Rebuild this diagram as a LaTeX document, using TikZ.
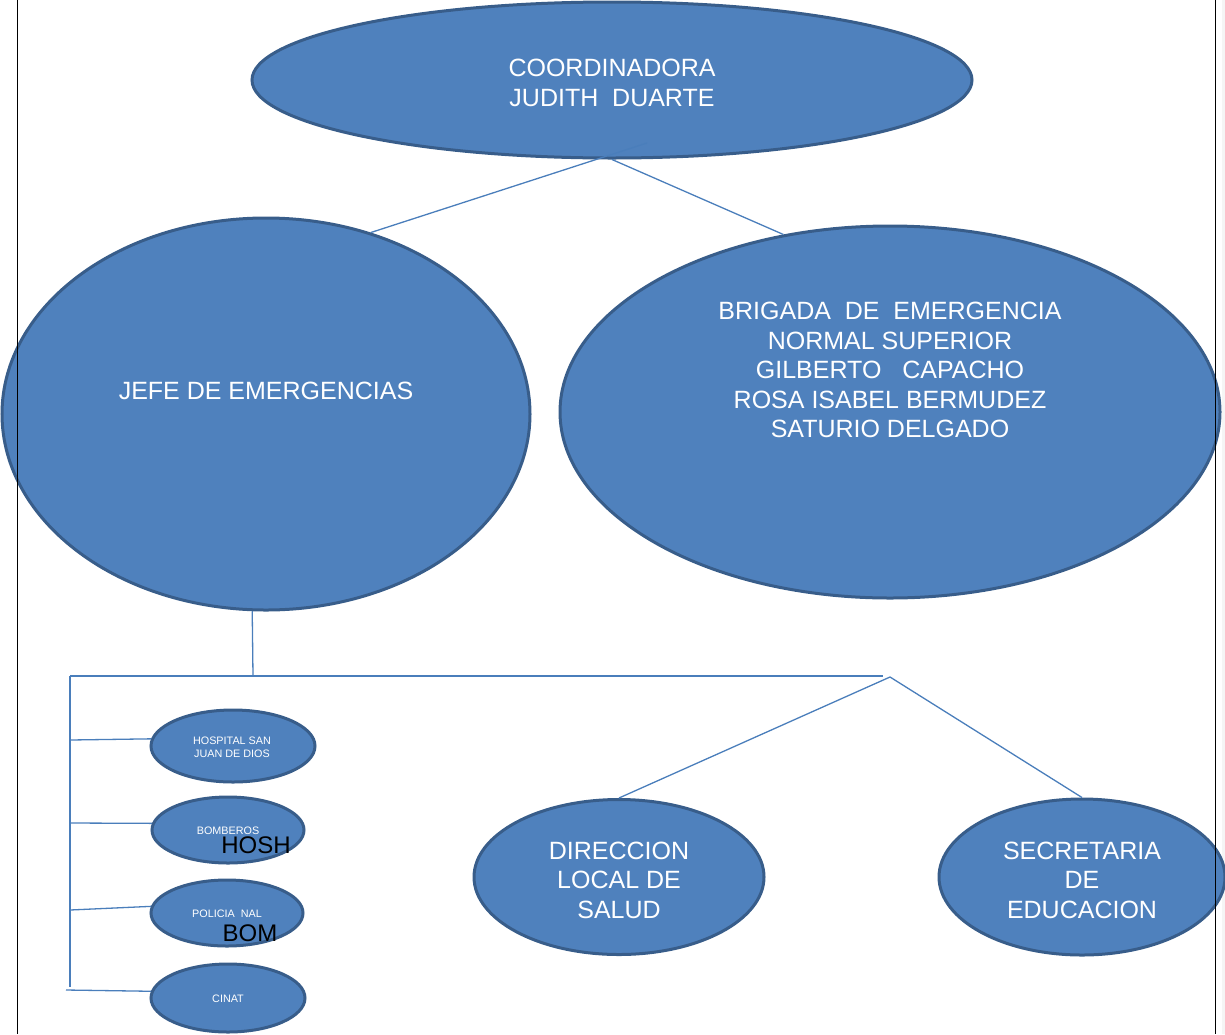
\documentclass[tikz,border=0pt]{standalone}
\usepackage{fontspec}
\setmainfont{Liberation Sans}
\usetikzlibrary{shapes.geometric}
\definecolor{elfill}{HTML}{4F81BD}
\definecolor{elline}{HTML}{385D8A}
\definecolor{conline}{HTML}{4A7EBB}

\begin{document}
\begin{tikzpicture}[x=1pt,y=-1pt,
  burbuja/.style={ellipse,draw=elline,line width=3pt,fill=elfill,inner sep=0pt},
  rama/.style={draw=conline,line width=1.3pt},
  texto/.style={text=white,align=center,font=\fontsize{25}{29.5}\selectfont},
  chico/.style={text=white,align=center,font=\fontsize{10.8}{13}\selectfont},
  negro/.style={text=black,font=\fontsize{24}{29}\selectfont}]
\useasboundingbox (0,0) rectangle (1225,1034);
\fill[gray!8] (1222,0) rectangle (1225,1034);
%ovalos grandes
\node[burbuja,minimum width=720pt,minimum height=156pt] (coord) at (612,80) {};
\node[burbuja,minimum width=528pt,minimum height=392pt] (jefe) at (266,414) {};
\node[burbuja,minimum width=660pt,minimum height=372pt] (brigada) at (890,412) {};
%ovalos chicos
\node[burbuja,minimum width=164pt,minimum height=72pt] (hospital) at (233,746) {};
\node[burbuja,minimum width=152pt,minimum height=66pt] (bomberos) at (228,830) {};
\node[burbuja,minimum width=152pt,minimum height=66pt] (policia) at (227,913) {};
\node[burbuja,minimum width=154pt,minimum height=68pt] (cinat) at (228,998) {};
\node[burbuja,minimum width=290pt,minimum height=155pt] (direccion) at (619,877) {};
\node[burbuja,minimum width=286pt,minimum height=156pt] (secretaria) at (1082,877) {};
%textos
\node[texto] (tcoord) at (612,83) {COORDINADORA\\JUDITH\ \ DUARTE};
\node[texto] (tjefe) at (266,391) {JEFE DE EMERGENCIAS};
\node[texto] (tbrigada) at (890,370) {BRIGADA\ \ DE\ \ EMERGENCIA\\NORMAL SUPERIOR\\GILBERTO\ \ \ CAPACHO\\ROSA ISABEL BERMUDEZ\\SATURIO DELGADO};
\node[chico] (thospital) at (232,747) {HOSPITAL SAN\\JUAN DE DIOS};
\node[chico] (tbomberos) at (228,831) {BOMBEROS};
\node[chico] (tpolicia) at (227,914) {POLICIA\ \ NAL};
\node[chico] (tcinat) at (228,999) {CINAT};
\node[negro] (thosh) at (256,845) {HOSH};
\node[negro] (tbom) at (250,933) {BOM};
\node[texto] (tdireccion) at (619,880) {DIRECCION\\LOCAL DE\\SALUD};
\node[texto] (tsecretaria) at (1082,880) {SECRETARIA\\DE\\EDUCACION};
%conectores
\coordinate (cruce) at (647,143);
\coordinate (bajada) at (253,676);
\coordinate (esquina) at (70,676);
\coordinate (fin) at (883,676);
\coordinate (vertice) at (890,677);
\draw[rama] (jefe.60) -- (cruce);
\draw[rama] (coord.south) -- (brigada.121.7);
\draw[rama] (jefe.266) -- (bajada);
\draw[rama] (esquina) -- (fin);
\draw[rama] (esquina) -- (70,987);
\foreach \n/\x/\y in {hospital/70/740,bomberos/70/823,policia/70/910,cinat/66/990} {
\draw[rama] (\x,\y) -- (\n.175);
}
\draw[rama] (direccion.north) -- (vertice) -- (secretaria.north);
%bordes de pagina
\draw[black,line width=1pt] (17,0) -- (17,1034);
\draw[black,line width=1pt] (1215,0) -- (1215,1034);
\end{tikzpicture}
\end{document}
